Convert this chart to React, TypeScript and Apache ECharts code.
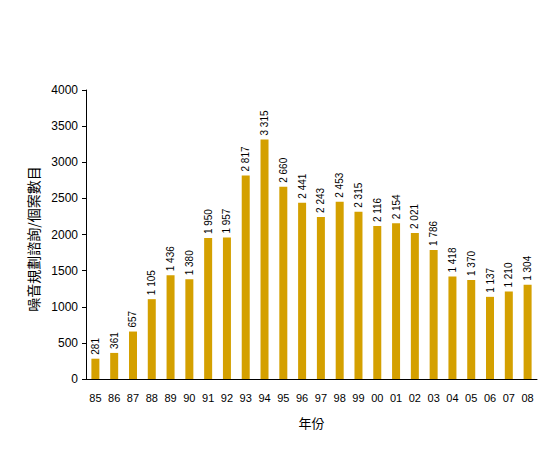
import React, { useEffect, useRef } from "react";
import * as echarts from "echarts";

const categories = ["85","86","87","88","89","90","91","92","93","94","95","96","97","98","99","00","01","02","03","04","05","06","07","08"];
const values = [281,361,657,1105,1436,1380,1950,1957,2817,3315,2660,2441,2243,2453,2315,2116,2154,2021,1786,1418,1370,1137,1210,1304];
const yTicks = { min: 0, max: 4000, interval: 500 };
const xName = "年份";
const yName = "噪音規劃諮詢/個案數目";

const FONT = "'Liberation Sans', Arial, sans-serif";
const CJK = "'Noto Sans CJK TC', sans-serif";
const fmt = (v: number) => String(v).replace(/\B(?=(\d{3})+(?!\d))/g, " ");

export default function App() {
  const ref = useRef<HTMLDivElement>(null);
  useEffect(() => {
    const chart = echarts.init(ref.current!, null, { renderer: "svg" });
    chart.setOption({
      animation: false,
      backgroundColor: "#ffffff",
      textStyle: { fontFamily: FONT },
      grid: { left: 86, right: 17, top: 90, bottom: 74, containLabel: false },
      xAxis: {
        type: "category",
        data: categories,
        name: xName,
        nameLocation: "middle",
        nameGap: 37,
        nameTextStyle: { color: "#000", fontSize: 13, fontFamily: CJK },
        axisLine: { lineStyle: { color: "#000", width: 1 } },
        axisTick: { show: false },
        axisLabel: { color: "#000", fontSize: 11, margin: 13, interval: 0, fontFamily: FONT },
        splitLine: { show: false },
      },
      yAxis: {
        type: "value",
        min: yTicks.min,
        max: yTicks.max,
        interval: yTicks.interval,
        name: yName,
        nameLocation: "middle",
        nameGap: 46,
        nameRotate: 90,
        nameTextStyle: { color: "#000", fontSize: 14, fontFamily: CJK, padding: [0, 9, 0, 0] },
        axisLine: { show: true, lineStyle: { color: "#000", width: 1 } },
        axisTick: { show: true, length: 4, lineStyle: { color: "#000" } },
        axisLabel: { color: "#000", fontSize: 12, margin: 8, fontFamily: FONT, formatter: (v: number) => String(v) },
        splitLine: { show: false },
      },
      series: [
        {
          type: "bar",
          data: values,
          barWidth: 8,
          itemStyle: { color: "#D4A000" },
          label: {
            show: true,
            position: "top",
            distance: 4,
            rotate: 90,
            align: "left",
            verticalAlign: "middle",
            fontSize: 10,
            color: "#000",
            fontFamily: FONT,
            formatter: (p: any) => fmt(p.value),
          },
        },
      ],
    });
    return () => chart.dispose();
  }, []);
  return <div ref={ref} style={{ width: 554, height: 453, position: "absolute", left: 0, top: 0 }} />;
}
